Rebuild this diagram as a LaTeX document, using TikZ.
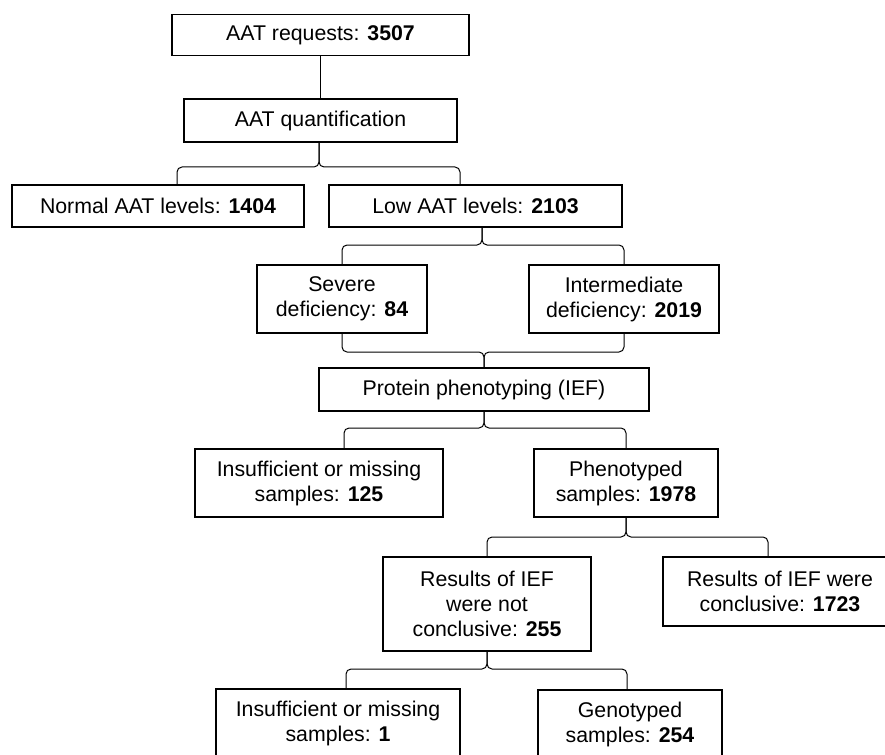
\documentclass[tikz,border=0pt]{standalone}
\usepackage{fontspec}
\setmainfont{Liberation Sans}
\begin{document}
\begin{tikzpicture}[x=1pt,y=-1pt,
  box/.style={draw=black,line width=1.3pt,inner sep=0pt,align=center,
    font=\fontsize{21.3}{25}\selectfont},
  conn/.style={draw=black,line width=1pt},
  brace/.style={draw=black,line width=1pt,rounded corners=5pt}]
\useasboundingbox (0,0) rectangle (885,754);
\clip (0,0) rectangle (885,754);
\fill[white] (0,0) rectangle (885,754);
% nodes
\node[box,minimum width=297pt,minimum height=41pt] (req) at (320.5,35) {AAT requests: \textbf{3507}};
\node[box,minimum width=273pt,minimum height=43pt] (quant) at (320.5,120.5) {AAT quantification};
\node[box,minimum width=292pt,minimum height=42pt] (normal) at (158,206) {Normal AAT levels: \textbf{1404}};
\node[box,minimum width=293pt,minimum height=42pt] (low) at (475.5,206) {Low AAT levels: \textbf{2103}};
\node[box,minimum width=170pt,minimum height=68pt] (severe) at (342,299) {Severe\\deficiency: \textbf{84}};
\node[box,minimum width=190pt,minimum height=68pt] (inter) at (624,299) {Intermediate\\deficiency: \textbf{2019}};
\node[box,minimum width=330pt,minimum height=43pt] (prot) at (484,389.5) {Protein phenotyping (IEF)};
\node[box,minimum width=248pt,minimum height=68pt] (insuf) at (319,483) {Insufficient or missing\\samples: \textbf{125}};
\node[box,minimum width=184pt,minimum height=68pt] (pheno) at (626,483) {Phenotyped\\samples: \textbf{1978}};
\node[box,minimum width=208pt,minimum height=94pt] (notc) at (487,604) {Results of IEF\\were not\\conclusive: \textbf{255}};
\node[box,minimum width=234pt,minimum height=69pt] (conc) at (780,591.5) {Results of IEF were\\conclusive: \textbf{1723}};
\node[box,minimum width=244pt,minimum height=68pt] (insufa) at (338,723) {Insufficient or missing\\samples: \textbf{1}};
\node[box,minimum width=184pt,minimum height=68pt] (geno) at (630,724) {Genotyped\\samples: \textbf{254}};
% brace coordinates
\coordinate (b1c) at (319,167);
\coordinate (b1l) at (177,185);
\coordinate (b1r) at (460,185);
\coordinate (b2c) at (482,245);
\coordinate (b3c) at (484,352);
\coordinate (b4c) at (484,428);
\coordinate (b4l) at (344,449);
\coordinate (b5c) at (626,537);
\coordinate (b5r) at (768,557);
\coordinate (b6c) at (487,669);
\coordinate (b6l) at (346,689);
\coordinate (b6r) at (627,690);
% connectors
\draw[conn] (req.south) -- (quant.north);
\draw[brace] (b1c |- quant.south) -- (b1c) -| (b1l);
\draw[brace] (b1c |- quant.south) -- (b1c) -| (b1r);
\draw[brace] (b2c |- low.south) -- (b2c) -| (severe.north);
\draw[brace] (b2c |- low.south) -- (b2c) -| (inter.north);
\draw[brace] (severe.south) |- (b3c) -- (prot.north);
\draw[brace] (inter.south) |- (b3c) -- (prot.north);
\draw[brace] (prot.south) -- (b4c) -| (b4l);
\draw[brace] (prot.south) -- (b4c) -| (pheno.north);
\draw[brace] (pheno.south) -- (b5c) -| (notc.north);
\draw[brace] (pheno.south) -- (b5c) -| (b5r);
\draw[brace] (notc.south) -- (b6c) -| (b6l);
\draw[brace] (notc.south) -- (b6c) -| (b6r);
\end{tikzpicture}
\end{document}
